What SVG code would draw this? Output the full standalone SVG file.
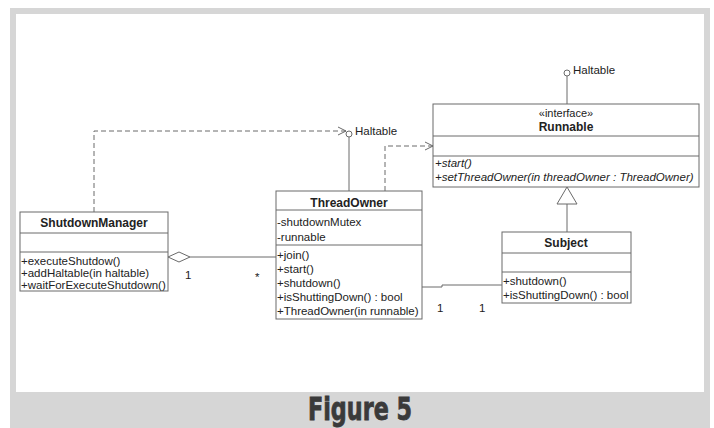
<svg xmlns="http://www.w3.org/2000/svg" width="714" height="428" viewBox="0 0 714 428">
  <style>
    .box { fill: #ffffff; stroke: #6a6a6a; stroke-width: 1; }
    .sep { stroke: #6a6a6a; stroke-width: 1; }
    text { font-family: "Liberation Sans", Arial, sans-serif; font-size: 11.5px; fill: #222222; }
    .title { font-weight: bold; font-size: 12px; text-anchor: middle; }
    .stereo { font-size: 11px; text-anchor: middle; }
    .it { font-style: italic; }
    .line { fill: none; stroke: #6a6a6a; stroke-width: 1; }
    .dash { fill: none; stroke: #6a6a6a; stroke-width: 1; stroke-dasharray: 5 3; }
    .caption { font-family: "DejaVu Sans Condensed", "Liberation Sans", sans-serif; font-weight: bold; font-size: 32px; fill: #3a3a3a; stroke: #3a3a3a; stroke-width: 0.8; text-anchor: middle; }
  </style>
  <defs>
    <marker id="open" viewBox="0 0 10 10" refX="9" refY="5" markerWidth="10" markerHeight="10" markerUnits="userSpaceOnUse" orient="auto">
      <path d="M1,1 L9,5 L1,9" fill="none" stroke="#6a6a6a" stroke-width="1"/>
    </marker>
  </defs>

  <!-- frame -->
  <rect x="0" y="0" width="714" height="428" fill="#ffffff"/>
  <rect x="10" y="8" width="700" height="420" fill="#d6d6d6"/>
  <rect x="16" y="14" width="688" height="378" fill="#ffffff"/>
  <text class="caption" x="360" y="420" textLength="104" lengthAdjust="spacingAndGlyphs">Figure 5</text>

  <!-- connectors -->
  <g id="connectors">
    <!-- Runnable provides Haltable -->
    <line class="line" x1="567" y1="104" x2="567" y2="76"/>
    <circle cx="567" cy="73" r="3" fill="#ffffff" stroke="#6a6a6a"/>
    <text x="573" y="74">Haltable</text>
    <!-- ThreadOwner provides Haltable -->
    <line class="line" x1="349" y1="191" x2="349" y2="137"/>
    <circle cx="349" cy="134" r="3" fill="#ffffff" stroke="#6a6a6a"/>
    <text x="355" y="135">Haltable</text>
    <!-- ShutdownManager uses Haltable -->
    <path class="dash" d="M94,212 V131 H346" marker-end="url(#open)"/>
    <!-- ThreadOwner uses Runnable -->
    <path class="dash" d="M385,191 V146 H433" marker-end="url(#open)"/>
    <!-- Subject realizes Runnable -->
    <line class="line" x1="567" y1="232" x2="567" y2="204"/>
    <path d="M567,187 L577,204 L557,204 Z" fill="#ffffff" stroke="#6a6a6a"/>
    <!-- ShutdownManager aggregates ThreadOwner -->
    <line class="line" x1="190" y1="257" x2="276" y2="257"/>
    <path d="M168,257 L179,252 L190,257 L179,262 Z" fill="#ffffff" stroke="#6a6a6a"/>
    <text x="185" y="279">1</text>
    <text x="255" y="281">*</text>
    <!-- ThreadOwner associates Subject -->
    <path class="line" d="M422,287 H442 V285 H502"/>
    <text x="437" y="312">1</text>
    <text x="479" y="312">1</text>
  </g>

  <!-- Runnable -->
  <g id="runnable">
    <rect class="box" x="433" y="104" width="266" height="83"/>
    <line class="sep" x1="433" y1="136" x2="699" y2="136"/>
    <line class="sep" x1="433" y1="156" x2="699" y2="156"/>
    <text class="stereo" x="566" y="117">«interface»</text>
    <text class="title" x="566" y="131">Runnable</text>
    <text class="it" x="435" y="167">+start()</text>
    <text class="it" x="435" y="181">+setThreadOwner(in threadOwner : ThreadOwner)</text>
  </g>

  <!-- ShutdownManager -->
  <g id="shutdownManager">
    <rect class="box" x="20" y="212" width="148" height="79"/>
    <line class="sep" x1="20" y1="233" x2="168" y2="233"/>
    <line class="sep" x1="20" y1="252" x2="168" y2="252"/>
    <text class="title" x="94" y="227">ShutdownManager</text>
    <text x="21" y="265">+executeShutdow()</text>
    <text x="21" y="277">+addHaltable(in haltable)</text>
    <text x="21" y="289">+waitForExecuteShutdown()</text>
  </g>

  <!-- ThreadOwner -->
  <g id="threadOwner">
    <rect class="box" x="276" y="191" width="146" height="128"/>
    <line class="sep" x1="276" y1="210" x2="422" y2="210"/>
    <line class="sep" x1="276" y1="245" x2="422" y2="245"/>
    <text class="title" x="349" y="207">ThreadOwner</text>
    <text x="277" y="226">-shutdownMutex</text>
    <text x="277" y="241">-runnable</text>
    <text x="277" y="259">+join()</text>
    <text x="277" y="273">+start()</text>
    <text x="277" y="287">+shutdown()</text>
    <text x="277" y="301">+isShuttingDown() : bool</text>
    <text x="277" y="315">+ThreadOwner(in runnable)</text>
  </g>

  <!-- Subject -->
  <g id="subject">
    <rect class="box" x="502" y="232" width="129" height="71"/>
    <line class="sep" x1="502" y1="253" x2="631" y2="253"/>
    <line class="sep" x1="502" y1="272" x2="631" y2="272"/>
    <text class="title" x="566" y="247">Subject</text>
    <text x="503" y="285">+shutdown()</text>
    <text x="503" y="299">+isShuttingDown() : bool</text>
  </g>
</svg>
